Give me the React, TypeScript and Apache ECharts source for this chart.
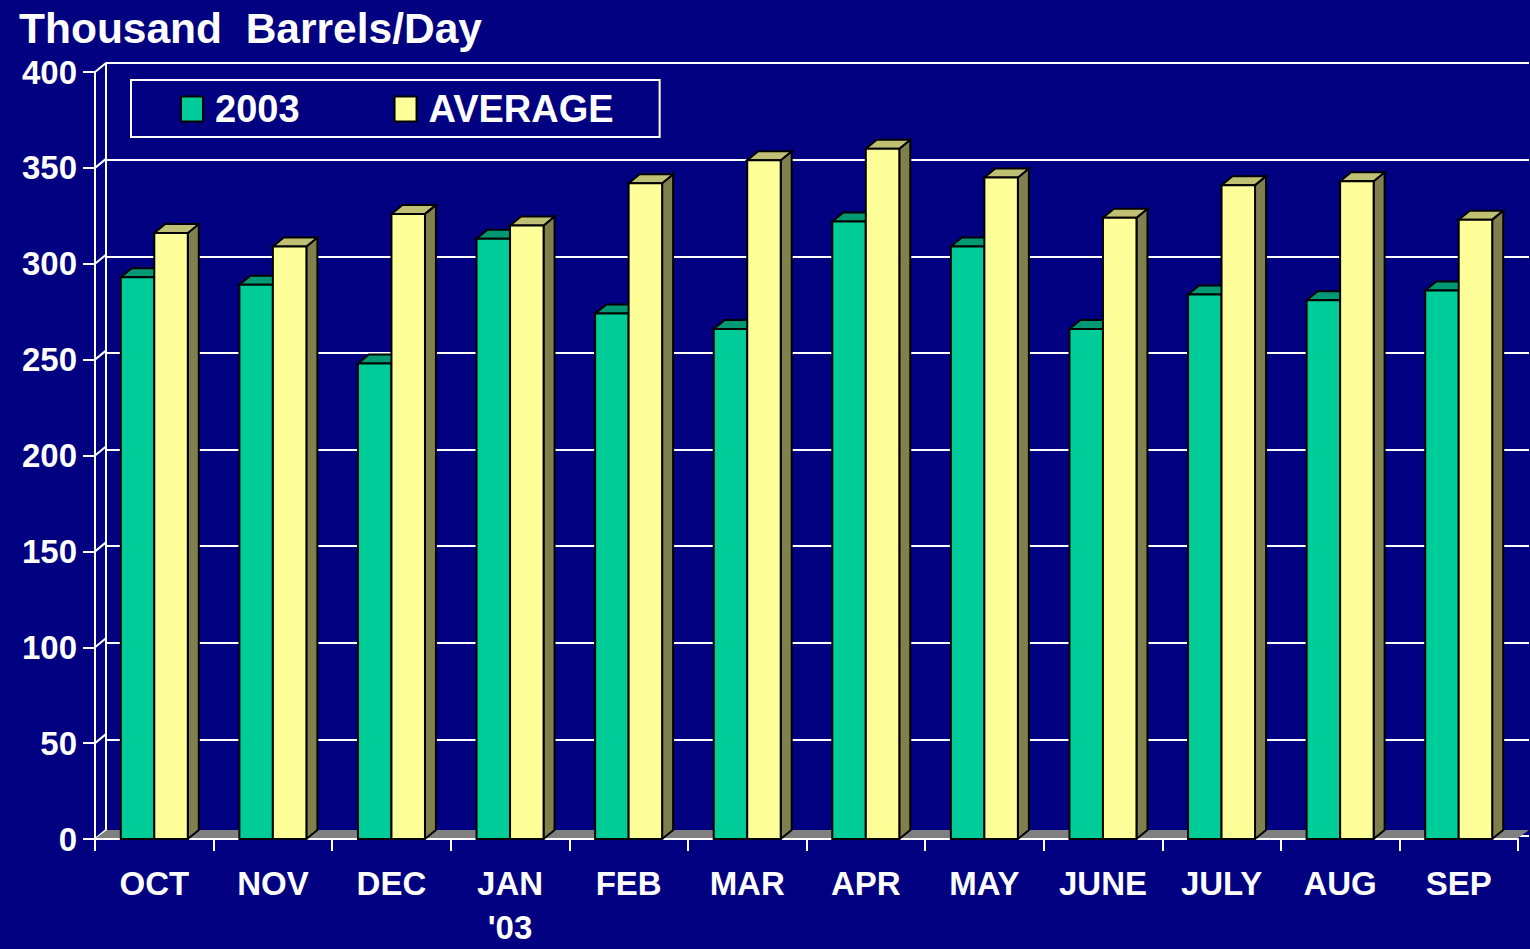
import React, { useEffect, useRef } from "react";
import * as echarts from "echarts";

const categories = ["OCT", "NOV", "DEC", "JAN\n'03", "FEB", "MAR", "APR", "MAY", "JUNE", "JULY", "AUG", "SEP"];
const values2003 = [293, 289, 248, 313, 274, 266, 322, 309, 266, 284, 281, 286];
const valuesAverage = [316, 309, 326, 320, 342, 354, 360, 345, 324, 341, 343, 323];
const yTicks = [0, 50, 100, 150, 200, 250, 300, 350, 400];
const seriesNames = ["2003", "AVERAGE"];

const FONT = "'Liberation Sans', Arial, sans-serif";
const DX = 11;
const DY = -9;
const GRID_BOTTOM = 104;

const palette = [
  { front: "#00CC99", top: "#009973", side: "#006650" },
  { front: "#FFFF99", top: "#C0C075", side: "#80804F" },
];

function barRender(s: number) {
  return (params: any, api: any) => {
    const i = api.value(0);
    const v = api.value(1);
    const base = api.coord([i, 0]);
    const topPt = api.coord([i, v]);
    const band = api.size([1, 0])[0];
    const w = band * 0.2825;
    const cx = base[0];
    const x0 = s === 0 ? cx - w : cx;
    const yb = base[1];
    const yt = topPt[1];
    const c = palette[s];
    const stroke = { stroke: "#000", lineWidth: 2, lineJoin: "miter" };
    return {
      type: "group",
      children: [
        {
          type: "polygon",
          shape: { points: [[x0 + w, yt], [x0 + w + DX, yt + DY], [x0 + w + DX, yb + DY], [x0 + w, yb]] },
          style: { fill: c.side, ...stroke },
        },
        {
          type: "polygon",
          shape: { points: [[x0, yt], [x0 + w, yt], [x0 + w + DX, yt + DY], [x0 + DX, yt + DY]] },
          style: { fill: c.top, ...stroke },
        },
        {
          type: "rect",
          shape: { x: x0, y: yt, width: w, height: yb - yt },
          style: { fill: c.front, ...stroke },
        },
      ],
    };
  };
}

export default function App() {
  const ref = useRef<HTMLDivElement>(null);
  useEffect(() => {
    if (!ref.current) return;
    const chart = echarts.init(ref.current, undefined, { renderer: "svg" });
    const option: any = {
      animation: false,
      backgroundColor: "#000080",
      title: {
        text: "Thousand  Barrels/Day",
        left: 14,
        top: 2,
        textStyle: { color: "#fff", fontSize: 42.5, fontWeight: "bold", fontFamily: FONT },
      },
      legend: {
        left: 131,
        top: 80,
        orient: "horizontal",
        borderColor: "#fff",
        borderWidth: 2,
        padding: [10, 46, 9, 49],
        itemWidth: 22,
        itemHeight: 25,
        itemGap: 94,
        icon: "rect",
        textStyle: { color: "#fff", fontSize: 38, fontWeight: "bold", fontFamily: FONT, padding: [0, 0, 0, 7] },
        data: seriesNames.map((n, k) => ({
          name: n,
          itemStyle: { color: palette[k].front, borderColor: "#000", borderWidth: 2 },
        })),
      },
      grid: [
        { left: 95, right: 12, top: 72, bottom: GRID_BOTTOM },
        { left: 95 + DX, right: 12 - DX, top: 72 + DY, bottom: GRID_BOTTOM - DY },
      ],
      xAxis: [
        {
          type: "category",
          gridIndex: 0,
          data: categories,
          axisLine: { show: true, lineStyle: { color: "#fff", width: 2 } },
          axisTick: { show: true, length: 12, interval: 0, lineStyle: { color: "#fff", width: 2 } },
          axisLabel: {
            interval: 0,
            color: "#fff",
            fontSize: 33,
            fontWeight: "bold",
            fontFamily: FONT,
            margin: 22,
            lineHeight: 44,
          },
          splitLine: { show: false },
        },
        { type: "category", gridIndex: 1, data: categories, show: false },
      ],
      yAxis: [
        {
          type: "value",
          gridIndex: 0,
          min: 0,
          max: 400,
          interval: 50,
          axisLine: { show: true, lineStyle: { color: "#fff", width: 2 } },
          axisTick: { show: true, length: 12, lineStyle: { color: "#fff", width: 2 } },
          axisLabel: { color: "#fff", fontSize: 33, fontWeight: "bold", fontFamily: FONT, margin: 18 },
          splitLine: { show: false },
        },
        {
          type: "value",
          gridIndex: 1,
          min: 0,
          max: 400,
          interval: 50,
          axisLine: { show: true, lineStyle: { color: "#fff", width: 2 } },
          axisTick: { show: false },
          axisLabel: { show: false },
          splitLine: { show: true, lineStyle: { color: "#fff", width: 2 } },
        },
      ],
      series: [
        {
          type: "custom",
          name: "connectors",
          xAxisIndex: 0,
          yAxisIndex: 0,
          z: 1,
          silent: true,
          data: yTicks.map((v) => [0, v]),
          encode: { x: 0, y: 1 },
          renderItem: (params: any, api: any) => {
            const x = params.coordSys.x;
            const y = api.coord([0, api.value(1)])[1];
            return {
              type: "line",
              shape: { x1: x, y1: y, x2: x + DX, y2: y + DY },
              style: { stroke: "#fff", lineWidth: 2 },
            };
          },
        },
        {
          type: "custom",
          name: "floor",
          xAxisIndex: 0,
          yAxisIndex: 0,
          z: 1,
          silent: true,
          data: [[0, 0]],
          encode: { x: 0, y: 1 },
          renderItem: (params: any, api: any) => {
            const cs = params.coordSys;
            const y = api.coord([0, 0])[1];
            const x1 = cs.x;
            const x2 = cs.x + cs.width;
            return {
              type: "polygon",
              shape: { points: [[x1 + 1, y - 1], [x2, y - 1], [x2 + DX, y + DY], [x1 + DX + 1, y + DY]] },
              style: { fill: "#808080" },
            };
          },
        },
        {
          type: "custom",
          name: seriesNames[0],
          xAxisIndex: 0,
          yAxisIndex: 0,
          z: 3,
          itemStyle: { color: palette[0].front, borderColor: "#000", borderWidth: 2 },
          data: values2003.map((v, i) => [i, v]),
          encode: { x: 0, y: 1 },
          renderItem: barRender(0),
        },
        {
          type: "custom",
          name: seriesNames[1],
          xAxisIndex: 0,
          yAxisIndex: 0,
          z: 4,
          itemStyle: { color: palette[1].front, borderColor: "#000", borderWidth: 2 },
          data: valuesAverage.map((v, i) => [i, v]),
          encode: { x: 0, y: 1 },
          renderItem: barRender(1),
        },
      ],
    };
    chart.setOption(option);
    return () => chart.dispose();
  }, []);
  return (
    <div
      ref={ref}
      style={{ position: "fixed", left: 0, top: 0, width: 1530, height: 949 }}
    />
  );
}
